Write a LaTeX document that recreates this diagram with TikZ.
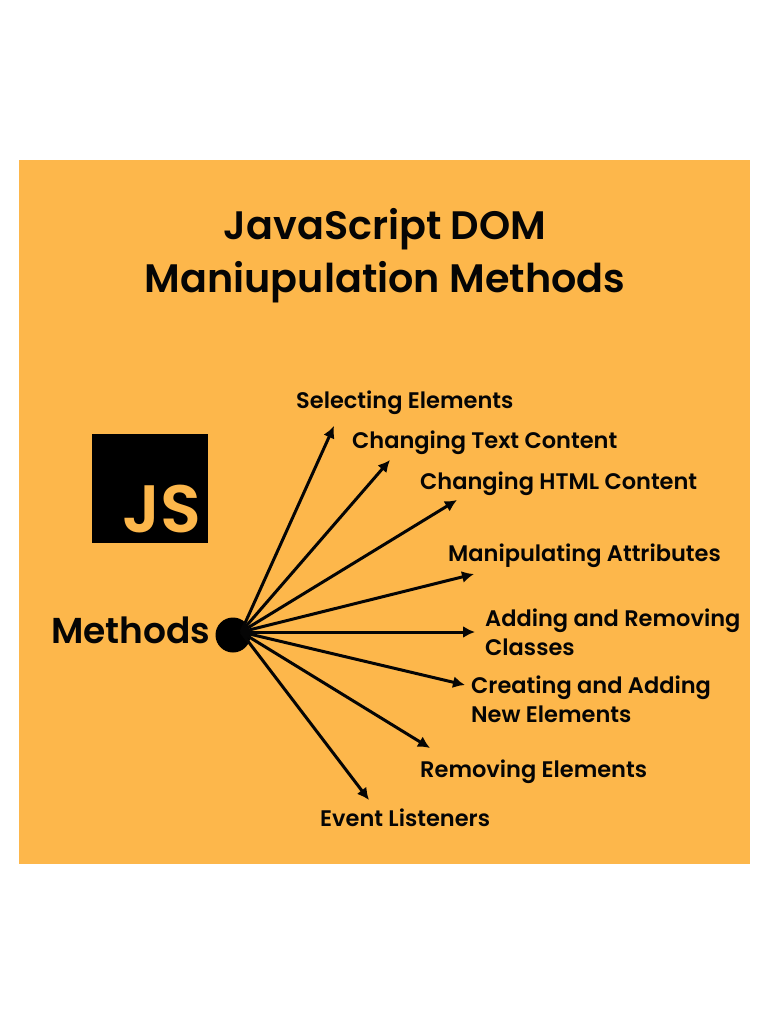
\documentclass[tikz,border=0pt]{standalone}
\usepackage{fontspec}
\setmainfont{Poppins SemiBold}
\usetikzlibrary{arrows.meta}
\definecolor{panel}{HTML}{FDB74B}
\definecolor{ink}{HTML}{050505}
\begin{document}
\begin{tikzpicture}[x=1pt,y=-1pt,
    lab/.style = {anchor=west, inner sep=0pt, text=ink, font=\fontsize{22.5}{29}\selectfont, align=left},
    ray/.style = {-{Latex[length=12pt,width=12pt]}, line width=3pt, draw=ink}]
    \useasboundingbox (0,0) rectangle (768,1024);
    \fill[white] (0,0) rectangle (768,1024);
    \fill[panel] (19,160) rectangle (750,864);

    \node[inner sep=0pt, text=ink, font=\fontsize{39.7}{53}\selectfont, align=center] (title) at (385,256) {JavaScript DOM\\Maniupulation Methods};

    \node[fill=black, minimum width=116pt, minimum height=109pt, inner sep=0pt] (logo) at (150,488) {};
    \node[inner sep=0pt, text=panel, font=\fontsize{67}{67}\selectfont] (logotext) at (161.5,509) {JS};

    \node[fill=black, circle, minimum size=35pt, inner sep=0pt] (hub) at (233,635) {};
    \node[lab, font=\fontsize{36}{38}\selectfont] (methods) at (51,630) {Methods};

    \node[lab] (select) at (296,403) {Selecting Elements};
    \node[lab] (text) at (352,442.5) {Changing Text Content};
    \node[lab] (html) at (420,484) {Changing HTML Content};
    \node[lab] (attr) at (448,555.5) {Manipulating Attributes};
    \node[lab] (classes) at (485,632) {Adding and Removing\\Classes};
    \node[lab] (create) at (471,699) {Creating and Adding\\New Elements};
    \node[lab] (remove) at (420,772) {Removing Elements};
    \node[lab] (event) at (320,818) {Event Listeners};

    \coordinate (origin) at (241,632);
    \coordinate (selectend) at (334,426);
    \coordinate (textend) at (390,460);
    \coordinate (htmlend) at (457,500);
    \coordinate (attrend) at (474,574);
    \coordinate (classesend) at (475,632);
    \coordinate (createend) at (465,685);
    \coordinate (removeend) at (430,748);
    \coordinate (eventend) at (369,800);

    \foreach \tip in {selectend,textend,htmlend,attrend,classesend,createend,removeend,eventend}
        \draw[ray] (origin) -- (\tip);
\end{tikzpicture}
\end{document}
